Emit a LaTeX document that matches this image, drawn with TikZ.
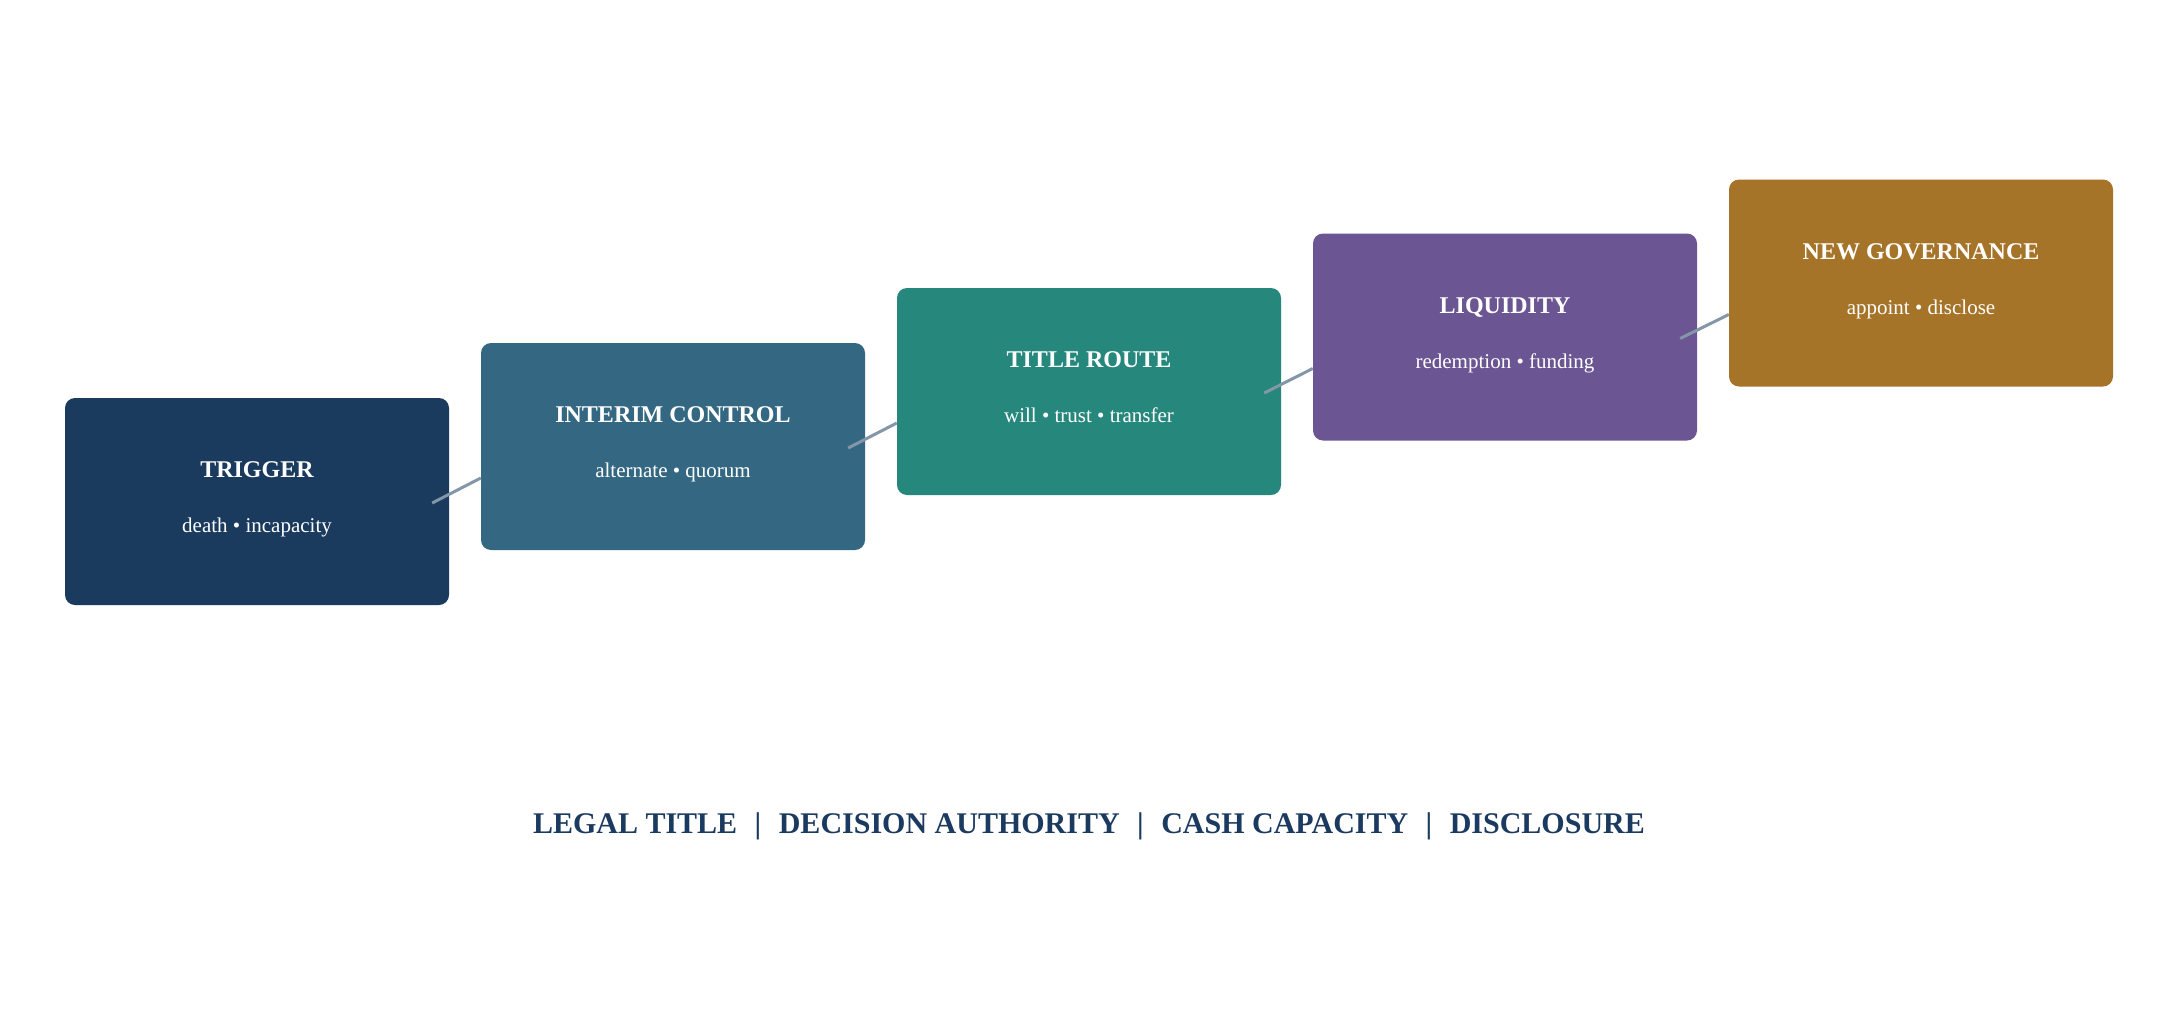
\documentclass[tikz,border=0pt]{standalone}
\usepackage{fontspec}
\setmainfont{Liberation Serif}
\usetikzlibrary{calc}
\definecolor{cA}{HTML}{1A3A5E}
\definecolor{cB}{HTML}{346882}
\definecolor{cC}{HTML}{26877D}
\definecolor{cD}{HTML}{6B5593}
\definecolor{cE}{HTML}{A67429}
\definecolor{linkc}{HTML}{8497A8}
\definecolor{navy}{HTML}{1B3A5F}
\newcommand{\sepbar}{\hspace{17.5pt}|\hspace{17.5pt}}
\begin{document}
\begin{tikzpicture}[x=1pt,y=-1pt,
  stage/.style={rounded corners=10pt, minimum width=384pt, minimum height=207pt, inner sep=0pt, fill=#1},
  ttl/.style={font=\fontsize{24}{28}\selectfont\bfseries, text=white, anchor=base, inner sep=0pt},
  sub/.style={font=\fontsize{21}{25}\selectfont, text=white, anchor=base, inner sep=0pt},
  link/.style={draw=linkc, line width=3pt}]
\useasboundingbox[fill=white] (0,0) rectangle (2177,1033);
\node[stage=cA] (s1) at (257,501.5) {};
\node[stage=cB] (s2) at (673,446.5) {};
\node[stage=cC] (s3) at (1089,391.5) {};
\node[stage=cD] (s4) at (1505,337) {};
\node[stage=cE] (s5) at (1921,283) {};
\foreach \i/\t/\s in {1/TRIGGER/death • incapacity, 2/INTERIM CONTROL/alternate • quorum, 3/TITLE ROUTE/will • trust • transfer, 4/LIQUIDITY/redemption • funding, 5/NEW GOVERNANCE/appoint • disclose}{
  \node[ttl] (t\i) at ($(s\i.center)+(0,-24)$) {\t};
  \node[sub] (u\i) at ($(s\i.center)+(0,31)$) {\s};
}
\foreach \a/\b in {1/2,2/3,3/4,4/5}{
  \draw[link] ($(s\a.east)+(-17,1.5)$) -- ($(s\b.west)+(0,31.5)$);
}
\node[font=\fontsize{30}{34}\selectfont\bfseries, text=navy, anchor=base, inner sep=0pt] (legend) at (1089,833) {LEGAL TITLE\sepbar DECISION AUTHORITY\sepbar CASH CAPACITY\sepbar DISCLOSURE};
\end{tikzpicture}
\end{document}
